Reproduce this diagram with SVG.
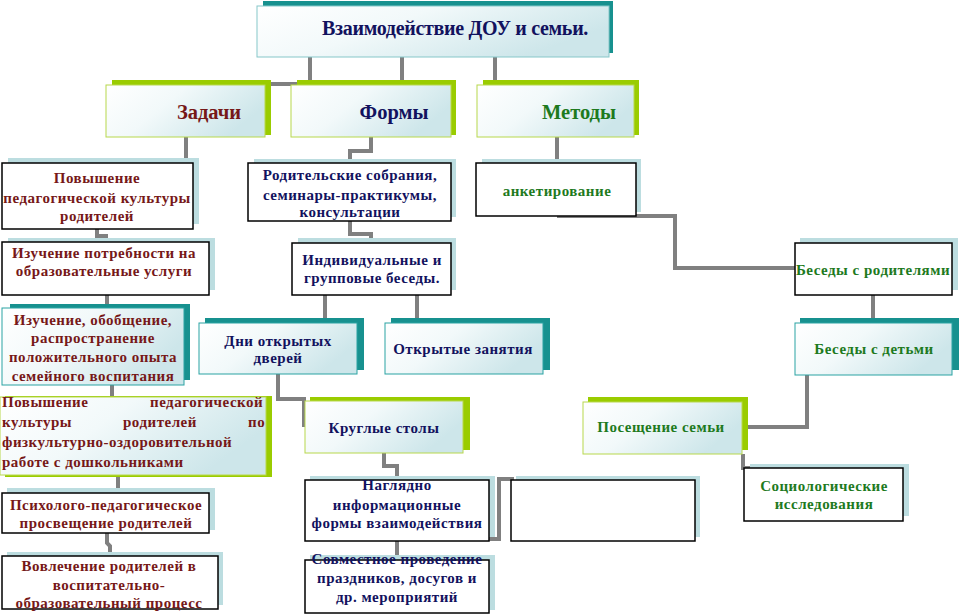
<svg xmlns="http://www.w3.org/2000/svg" width="959" height="614" viewBox="0 0 959 614">
<style>
.sb{fill:#bcdde0}
.st{fill:#17918f}
.sg{fill:#9acc00}
.pl{fill:#ffffff;stroke:#000000;stroke-width:1.5}
.gt{fill:url(#gr);stroke:#2aa3a3;stroke-width:1}
.gg{fill:url(#gr);stroke:#b8d84c;stroke-width:1}
.gh{fill:url(#gr);stroke:#86c7c9;stroke-width:1}
.cn{fill:none;stroke:#808080;stroke-width:4}
text{font-family:"Liberation Serif","DejaVu Serif",serif;font-weight:bold;font-size:15px;letter-spacing:0.5px;text-anchor:middle}
.r{fill:#761818}
.n{fill:#12125e}
.g{fill:#1e7a1e}
.h{font-size:20.5px;letter-spacing:0}
.ttl{font-size:20px;letter-spacing:-0.3px}
.lj{text-anchor:start}
</style>
<defs>
<linearGradient id="gr" x1="0" y1="0" x2="1" y2="0.4">
<stop offset="0" stop-color="#ffffff"/>
<stop offset="0.45" stop-color="#f2f9fa"/>
<stop offset="1" stop-color="#cde6ea"/>
</linearGradient>
</defs>
<g id="connectors">
<polyline class="cn" points="310,57 310,84 268,84"/>
<polyline class="cn" points="402,57 402,82"/>
<polyline class="cn" points="495,57 495,82"/>
<polyline class="cn" points="186,137 186,163"/>
<polyline class="cn" points="97,229 97,236 106,236 106,240"/>
<polyline class="cn" points="107,295 107,305"/>
<polyline class="cn" points="112,385 112,397"/>
<polyline class="cn" points="118,475 118,493"/>
<polyline class="cn" points="107,533 107,543 110,546 110,553"/>
<polyline class="cn" points="371,137 371,151 350,151 350,163"/>
<polyline class="cn" points="350,221 350,234 371,234 371,241"/>
<polyline class="cn" points="325,295 325,323"/>
<polyline class="cn" points="417,295 417,323"/>
<polyline class="cn" points="278,374 278,399 304,399 304,427"/>
<polyline class="cn" points="384,453 384,466 397,466 397,480"/>
<polyline class="cn" points="489,539 499,539 499,479 514,479"/>
<polyline class="cn" points="397,541 397,558"/>
<polyline class="cn" points="557,137 557,163"/>
<polyline class="cn" points="557,216 675,216 675,268 795,268"/>
<polyline class="cn" points="873,295 873,323"/>
<polyline class="cn" points="807,375 807,427 742,427"/>
<polyline class="cn" points="743,454 743,468 750,468"/>
</g>
<g id="title">
<rect class="st" x="263" y="1" width="350" height="52"/>
<rect class="gh" x="257" y="6" width="352" height="51"/>
<text class="n ttl" x="455" y="35">Взаимодействие ДОУ и семьи.</text>
</g>
<g id="zadachi">
<rect class="sg" x="112" y="80" width="159" height="55"/>
<rect class="gg" x="106" y="85" width="159" height="52"/>
<text class="r h" x="209" y="119">Задачи</text>
</g>
<g id="formy">
<rect class="sg" x="297" y="80" width="159" height="55"/>
<rect class="gg" x="291" y="85" width="160" height="52"/>
<text class="n h" x="394" y="119">Формы</text>
</g>
<g id="metody">
<rect class="sg" x="483" y="80" width="156" height="55"/>
<rect class="gg" x="477" y="85" width="157" height="52"/>
<text class="g h" x="579" y="119">Методы</text>
</g>
<g id="z1">
<rect class="sb" x="8" y="158" width="191" height="66"/>
<rect class="pl" x="2" y="163" width="191" height="66"/>
<text class="r" x="97"><tspan x="97" y="183">Повышение</tspan><tspan x="97" y="203">педагогической культуры</tspan><tspan x="97" y="221">родителей</tspan></text>
</g>
<g id="z2">
<rect class="sb" x="8" y="238" width="207" height="52"/>
<rect class="pl" x="2" y="242" width="207" height="53"/>
<text class="r" x="104"><tspan x="104" y="258">Изучение потребности на</tspan><tspan x="104" y="276">образовательные услуги</tspan></text>
</g>
<g id="z3">
<rect class="st" x="10" y="304" width="180" height="76"/>
<rect class="gt" x="2" y="308" width="182" height="77"/>
<text class="r" x="93"><tspan x="93" y="325">Изучение, обобщение,</tspan><tspan x="93" y="343">распространение</tspan><tspan x="93" y="362">положительного опыта</tspan><tspan x="93" y="381">семейного воспитания</tspan></text>
</g>
<g id="z4">
<rect class="sg" x="5" y="396" width="267" height="81"/>
<rect class="gg" x="0" y="397" width="266" height="78"/>
<text class="r lj"><tspan x="2" y="407">Повышение</tspan><tspan x="150" y="407">педагогической</tspan><tspan x="2" y="427">культуры</tspan><tspan x="123" y="427">родителей</tspan><tspan x="248" y="427">по</tspan><tspan x="2" y="447">физкультурно-оздоровительной</tspan><tspan x="2" y="467">работе с дошкольниками</tspan></text>
</g>
<g id="z5">
<rect class="sb" x="7" y="488" width="208" height="42"/>
<rect class="pl" x="2" y="493" width="207" height="40"/>
<text class="r" x="106"><tspan x="106" y="510">Психолого-педагогическое</tspan><tspan x="106" y="528">просвещение родителей</tspan></text>
</g>
<g id="z6">
<rect class="sb" x="7" y="552" width="216" height="53"/>
<rect class="pl" x="2" y="556" width="216" height="53"/>
<text class="r" x="109"><tspan x="109" y="571">Вовлечение родителей в</tspan><tspan x="109" y="590">воспитательно-</tspan><tspan x="109" y="608">образовательный процесс</tspan></text>
</g>
<g id="f1">
<rect class="sb" x="254" y="159" width="202" height="58"/>
<rect class="pl" x="248" y="163" width="203" height="58"/>
<text class="n" x="350"><tspan x="350" y="180">Родительские собрания,</tspan><tspan x="350" y="200">семинары-практикумы,</tspan><tspan x="350" y="217">консультации</tspan></text>
</g>
<g id="f2">
<rect class="sb" x="298" y="238" width="158" height="52"/>
<rect class="pl" x="292" y="243" width="159" height="52"/>
<text class="n" x="372"><tspan x="372" y="265">Индивидуальные и</tspan><tspan x="372" y="283">групповые беседы.</tspan></text>
</g>
<g id="f3">
<rect class="st" x="205" y="318" width="159" height="52"/>
<rect class="gt" x="199" y="323" width="158" height="51"/>
<text class="n" x="278"><tspan x="278" y="346">Дни открытых</tspan><tspan x="278" y="363">дверей</tspan></text>
</g>
<g id="f4">
<rect class="st" x="391" y="318" width="159" height="52"/>
<rect class="gt" x="385" y="323" width="158" height="51"/>
<text class="n" x="463" y="354">Открытые занятия</text>
</g>
<g id="f5">
<rect class="sg" x="310" y="397" width="160" height="53"/>
<rect class="gg" x="305" y="401" width="158" height="52"/>
<text class="n" x="384" y="433">Круглые столы</text>
</g>
<g id="f6">
<rect class="sb" x="310" y="476" width="185" height="61"/>
<rect class="pl" x="305" y="480" width="184" height="61"/>
<text class="n" x="397"><tspan x="397" y="490">Наглядно</tspan><tspan x="397" y="510">информационные</tspan><tspan x="397" y="528">формы взаимодействия</tspan></text>
</g>
<g id="f7">
<rect class="sb" x="516" y="476" width="184" height="61"/>
<rect class="pl" x="511" y="480" width="184" height="61"/>
</g>
<g id="f8">
<rect class="sb" x="310" y="555" width="185" height="55"/>
<rect class="pl" x="305" y="560" width="184" height="53"/>
<text class="n" x="397"><tspan x="397" y="564">Совместное проведение</tspan><tspan x="397" y="583">праздников, досугов и</tspan><tspan x="397" y="602">др. мероприятий</tspan></text>
</g>
<g id="m1">
<rect class="sb" x="482" y="159" width="159" height="53"/>
<rect class="pl" x="476" y="163" width="160" height="53"/>
<text class="g" x="557" y="196">анкетирование</text>
</g>
<g id="m2">
<rect class="sb" x="800" y="238" width="158" height="52"/>
<rect class="pl" x="795" y="243" width="157" height="52"/>
<text class="g" x="873" y="275">Беседы с родителями</text>
</g>
<g id="m3">
<rect class="st" x="800" y="318" width="159" height="52"/>
<rect class="gt" x="795" y="323" width="157" height="52"/>
<text class="g" x="874" y="354">Беседы с детьми</text>
</g>
<g id="m4">
<rect class="sg" x="588" y="397" width="160" height="53"/>
<rect class="gg" x="583" y="402" width="159" height="52"/>
<text class="g" x="661" y="432">Посещение семьи</text>
</g>
<g id="m5">
<rect class="sb" x="750" y="464" width="159" height="52"/>
<rect class="pl" x="744" y="468" width="159" height="53"/>
<text class="g" x="824"><tspan x="824" y="491">Социологические</tspan><tspan x="824" y="509">исследования</tspan></text>
</g>
</svg>
